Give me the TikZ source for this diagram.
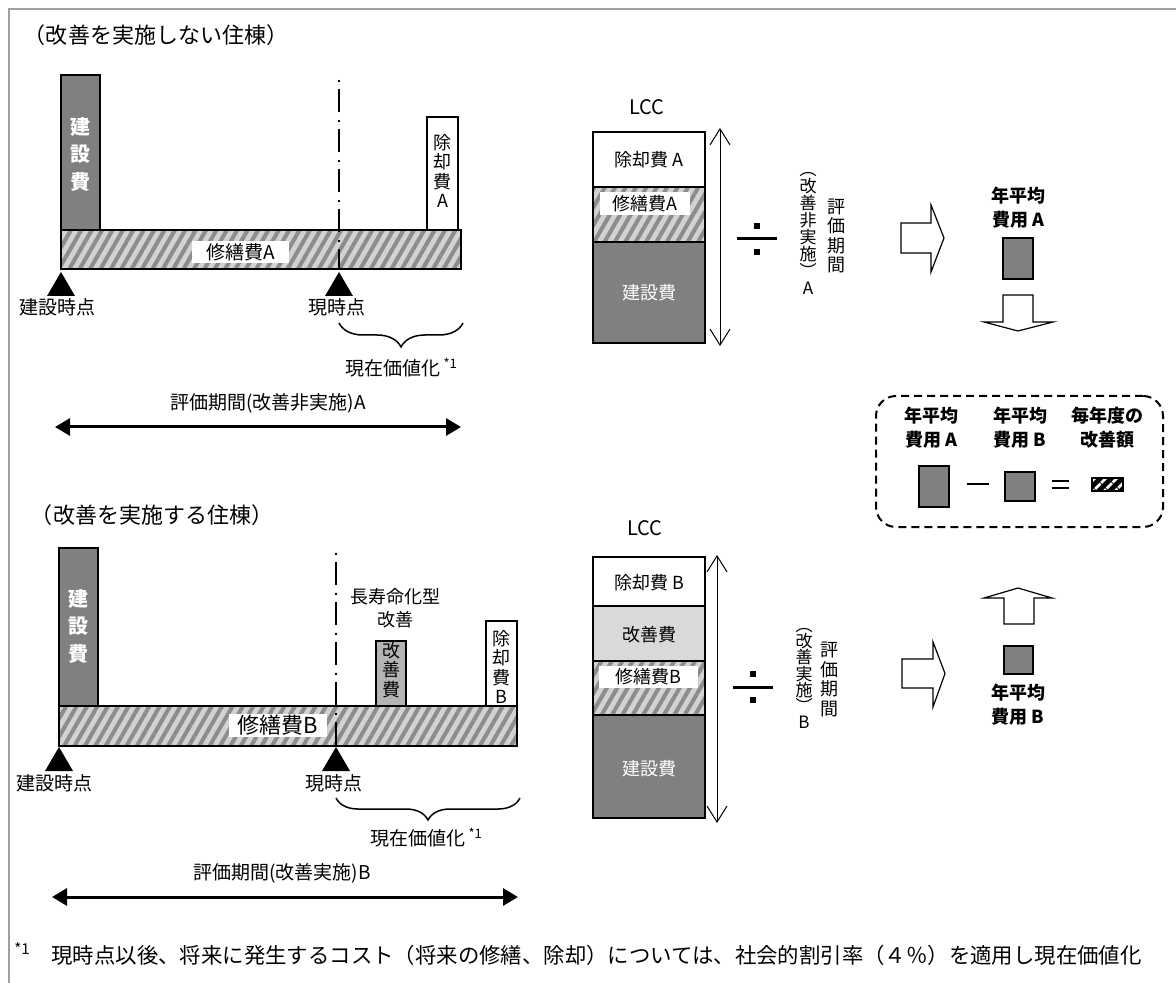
\documentclass[tikz,border=0pt]{standalone}
\usepackage{fontspec}
\setmainfont{Noto Sans CJK JP}
\usepackage{xcolor}
\usepackage{graphicx}
\usepackage{tikz}
\usetikzlibrary{arrows.meta,decorations.pathreplacing,patterns.meta}

\definecolor{kengray}{HTML}{808080}
\definecolor{kaizengray}{HTML}{B4B4B4}
\definecolor{kaizenlight}{HTML}{D9D9D9}
\definecolor{hatchbg}{HTML}{D2D2D2}
\definecolor{hatchfg}{HTML}{8C8C8C}
\definecolor{framegray}{HTML}{A0A0A0}

\newcommand{\noteone}{\,\raisebox{0.7ex}{\fontsize{6.5pt}{7pt}\selectfont *1}}

\tikzset{
  every node/.style={inner sep=0pt},
  bar/.style={draw=black, line width=1pt},
  hatched/.style={preaction={fill=hatchbg}, pattern={Lines[angle=60,distance=4.5pt,line width=2pt]}, pattern color=hatchfg},
  whitelabel/.style={fill=white},
  title/.style={font=\fontsize{11pt}{13pt}\selectfont},
  lbl/.style={font=\fontsize{9.5pt}{11pt}\selectfont},
  lccfont/.style={font=\fontsize{9pt}{11pt}\selectfont},
  vtext/.style={align=center, font=\fontsize{9pt}{9.8pt}\selectfont},
  vnarrow/.style={align=center, font=\fontsize{8.5pt}{8.5pt}\selectfont},
  bartext/.style={align=center, text=white, font=\bfseries\fontsize{10pt}{13.75pt}\selectfont},
  boldlbl/.style={align=center, font=\bfseries\fontsize{9pt}{12.3pt}\selectfont},
  nowline/.style={line width=1.2pt, dash pattern=on 1pt off 3.5pt on 11.5pt off 4pt},
  pvbrace/.style={decorate, decoration={brace, mirror, amplitude=#1}, line width=0.75pt},
  periodarrow/.style={line width=1.5pt, {Triangle[length=7.5pt,width=8.5pt]}-{Triangle[length=7.5pt,width=8.5pt]}},
  lccspan/.style={line width=0.5pt, {Straight Barb[length=8pt,width=10pt]}-{Straight Barb[length=8pt,width=10pt]}},
  hollowarrow/.style={draw=black, fill=white, line width=0.6pt},
  divsign/.style={fill=black},
  dashbox/.style={draw=black, line width=1pt, dash pattern=on 4pt off 2.5pt, rounded corners=10pt, minimum width=143.5pt, minimum height=65.5pt}
}

\begin{document}
\begin{tikzpicture}[x=0.5pt, y=-0.5pt]
\useasboundingbox (0,0) rectangle (1176,983);
\draw[framegray, line width=1pt] (1176,9) -- (9,9) -- (9,983);

% --- without improvement
\node[title] (titleA) at (156,35) {（改善を実施しない住棟）};
\draw[bar, fill=kengray] (61,75) rectangle (100,230);
\node[bartext] (kenA) at (80.5,154.5) {建\\設\\費};
\draw[bar, fill=white] (427,117) rectangle (458,230);
\node[vtext] (jokyakuA) at (442.5,171) {除\\却\\費\\A};
\draw[bar, hatched] (61,230) rectangle (461,269);
\node[whitelabel, lbl, minimum width=48.5pt, minimum height=11pt] (shuzenA) at (240.5,252) {修繕費A};
\draw[nowline] (339,80) -- (339,269);
\fill (61,272) -- (47,296) -- (75,296) -- cycle;
\fill (339,272) -- (325,296) -- (353,296) -- cycle;
\node[lbl] (kensetsuA) at (57,307) {建設時点};
\node[lbl] (genA) at (337,307) {現時点};
\draw[pvbrace=12pt] (339,323) -- (463,323);
\node[lbl, anchor=west] (pvA) at (345,368) {現在価値化\noteone};
\node[lbl] (periodA) at (268,403) {評価期間(改善非実施)A};
\coordinate (pAl) at (55,427);
\coordinate (pAr) at (461,427);
\draw[periodarrow] (pAl) -- (pAr);

% LCC A
\node[lbl, font=\fontsize{10pt}{11pt}\selectfont] (lccA) at (647,107) {LCC};
\draw[bar, fill=white] (593,132) rectangle (705,187);
\draw[bar, hatched] (593,187) rectangle (705,242);
\draw[bar, fill=kengray] (593,242) rectangle (705,343);
\node[lccfont] (lccjoA) at (649,160) {除却費 A};
\node[whitelabel, lccfont, minimum width=45pt, minimum height=11.5pt] (lccshA) at (645,203.5) {修繕費A};
\node[lccfont, text=white] (lcckenA) at (649,293) {建設費};
\coordinate (vAt) at (720,128);
\coordinate (vAb) at (720,346);
\draw[lccspan] (vAb) -- (vAt);
\draw[line width=1.5pt] (737,239) -- (777,239);
\fill[divsign] (754,223) rectangle (760,229);
\fill[divsign] (754,249) rectangle (760,255);
\node[vnarrow] (pdA1) at (808,233.5) {︵\\改\\善\\非\\実\\施\\︶\\A};
\node[vtext] (pdA2) at (836,236) {評\\価\\期\\間};
\draw[hollowarrow] (901,223) -- (931,223) -- (931,205) -- (944,238) -- (931,272) -- (931,253) -- (901,253) -- cycle;
\node[boldlbl] (avgA) at (1018,207.5) {年平均\\費用 A};
\draw[bar, fill=kengray] (1003,238) rectangle (1033,279);
\draw[hollowarrow] (1003,295) -- (1033,295) -- (1033,322) -- (1053,322) -- (1018,331) -- (984,322) -- (1003,322) -- cycle;

% difference box
\node[dashbox] (diffbox) at (1019.5,461.5) {};
\node[boldlbl, font=\bfseries\fontsize{9pt}{12pt}\selectfont] (dA) at (931,428) {年平均\\費用 A};
\node[boldlbl, font=\bfseries\fontsize{9pt}{12pt}\selectfont] (dB) at (1020,428) {年平均\\費用 B};
\node[boldlbl, font=\bfseries\fontsize{9pt}{12pt}\selectfont] (dC) at (1107,428) {毎年度の\\改善額};
\draw[bar, fill=kengray] (919,466) rectangle (949,507);
\draw[line width=1pt] (967,484) -- (989,484);
\draw[bar, fill=kengray] (1005,472) rectangle (1035,501);
\draw[line width=1pt] (1052,481) -- (1069,481);
\draw[line width=1pt] (1052,487.5) -- (1069,487.5);
\draw[line width=1pt, preaction={fill=black}, pattern={Lines[angle=45,distance=4pt,line width=1.5pt]}, pattern color=white] (1092,478) rectangle (1123,491);

% --- with improvement
\node[title] (titleB) at (152,515) {（改善を実施する住棟）};
\draw[bar, fill=kengray] (59,548) rectangle (98,706);
\node[bartext] (kenB) at (78.5,626.5) {建\\設\\費};
\node[lbl, align=center, font=\fontsize{9pt}{11.5pt}\selectfont] (chojuB) at (395,608.5) {長寿命化型\\改善};
\draw[bar, fill=kaizengray] (376,641) rectangle (406,706);
\node[vtext] (kaizenB) at (391,670) {改\\善\\費};
\draw[bar, fill=white] (486,621) rectangle (517,706);
\node[vtext] (jokyakuB) at (501.5,667) {除\\却\\費\\B};
\draw[bar, hatched] (59,706) rectangle (517,746);
\node[whitelabel, font=\fontsize{11pt}{12pt}\selectfont, minimum width=49pt, minimum height=11.5pt] (shuzenB) at (278,725.5) {修繕費B};
\draw[nowline] (336,553) -- (336,746);
\fill (59,747) -- (45,771) -- (73,771) -- cycle;
\fill (336,747) -- (322,771) -- (350,771) -- cycle;
\node[lbl] (kensetsuB) at (55,783) {建設時点};
\node[lbl] (genB) at (334,783) {現時点};
\draw[pvbrace=11pt] (336,798) -- (520,798);
\node[lbl, anchor=west] (pvB) at (370,838) {現在価値化\noteone};
\node[lbl] (periodB) at (282,873) {評価期間(改善実施)B};
\coordinate (pBl) at (52,897);
\coordinate (pBr) at (518,897);
\draw[periodarrow] (pBl) -- (pBr);

% LCC B
\node[lbl, font=\fontsize{10pt}{11pt}\selectfont] (lccB) at (645,528) {LCC};
\draw[bar, fill=white] (593,557) rectangle (705,606);
\draw[bar, fill=kaizenlight] (593,606) rectangle (705,661);
\draw[bar, hatched] (593,661) rectangle (705,715);
\draw[bar, fill=kengray] (593,715) rectangle (705,818);
\node[lccfont] (lccjoB) at (649,583) {除却費 B};
\node[lccfont] (lcckaB) at (649,635) {改善費};
\node[whitelabel, lccfont, minimum width=49.5pt, minimum height=11pt] (lccshB) at (648.5,677) {修繕費B};
\node[lccfont, text=white] (lcckenB) at (649,769) {建設費};
\coordinate (vBt) at (717,555);
\coordinate (vBb) at (717,823);
\draw[lccspan] (vBb) -- (vBt);
\draw[line width=1.5pt] (733,687) -- (773,687);
\fill[divsign] (750,671) rectangle (756,677);
\fill[divsign] (750,697) rectangle (756,703);
\node[vnarrow, font=\fontsize{8.5pt}{8.1pt}\selectfont] (pdB1) at (804,678.5) {︵\\改\\善\\実\\施\\︶\\B};
\node[vtext] (pdB2) at (829,679.5) {評\\価\\期\\間};
\draw[hollowarrow] (902,659) -- (933,659) -- (933,642) -- (945,673.5) -- (933,707) -- (933,688) -- (902,688) -- cycle;
\draw[hollowarrow] (1004,624) -- (1004,598) -- (984,598) -- (1018,588) -- (1052,598) -- (1034,598) -- (1034,624) -- cycle;
\draw[bar, fill=kengray] (1004,646) rectangle (1033,674);
\node[boldlbl] (avgB) at (1018,704.5) {年平均\\費用 B};

% footnote
\node[anchor=west, font=\fontsize{7.5pt}{8pt}\selectfont] (fnmark) at (14,949) {*1};
\node[anchor=west, font=\fontsize{10.7pt}{12pt}\selectfont] (footnote) at (51,955) {現時点以後、将来に発生するコスト（将来の修繕、除却）については、社会的割引率（４％）を適用し現在価値化};
\end{tikzpicture}
\end{document}
